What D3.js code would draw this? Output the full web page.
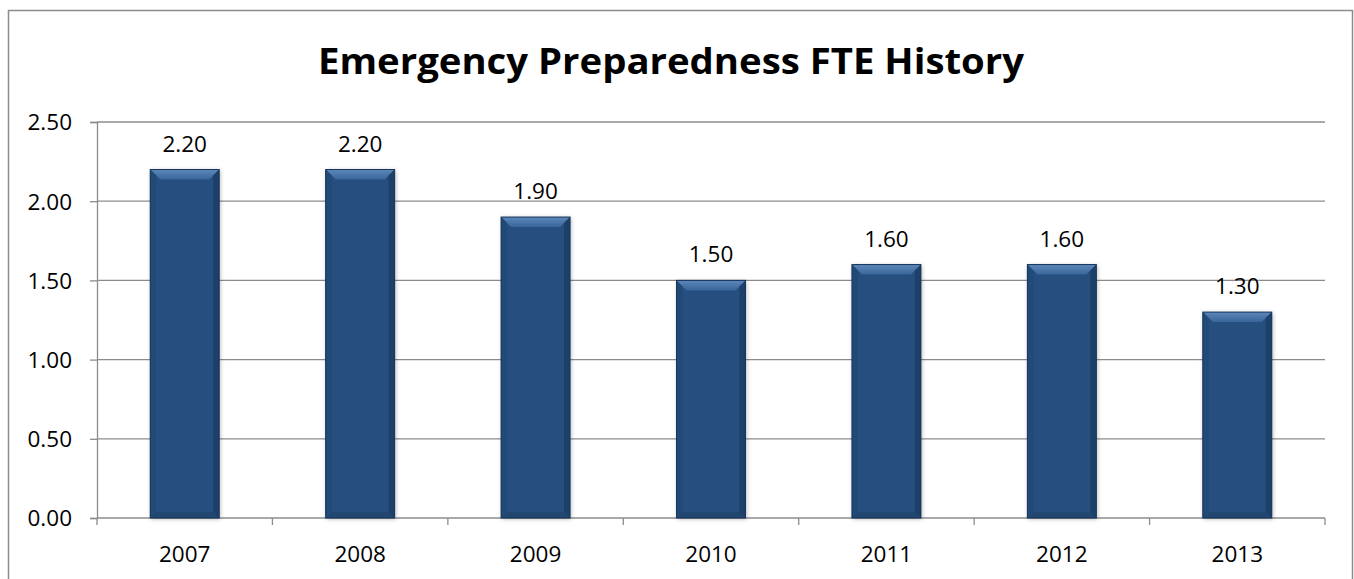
<!DOCTYPE html>
<html>
<head>
<meta charset="utf-8">
<script src="https://cdn.jsdelivr.net/npm/d3@7"></script>
<style>
  body { margin: 0; background: #fff; }
  svg { display: block; }
</style>
</head>
<body>
<script>
// datos del grafico
const years = ["2007", "2008", "2009", "2010", "2011", "2012", "2013"]
const fte = [2.20, 2.20, 1.90, 1.50, 1.60, 1.60, 1.30]
const yTicks = [0, 0.5, 1, 1.5, 2, 2.5]
const title = "Emergency Preparedness FTE History"

const W = 1354, H = 579
const margin = {top: 122, right: 29, bottom: 61, left: 97}
const width = W - margin.left - margin.right
const height = H - margin.top - margin.bottom

const svg = d3.select("body").append("svg")
    .attr("width", W)
    .attr("height", H)

const font = "'Open Sans', Lato, sans-serif"
const fs = 22.5

// marco exterior
svg.append("rect")
    .attr("x", 8.5).attr("y", 10.5)
    .attr("width", W - 10).attr("height", H + 20)
    .attr("fill", "none")
    .attr("stroke", "#8c8c8c")
    .attr("stroke-width", 1.5)

svg.append("text")
    .attr("x", 671).attr("y", 74)
    .attr("text-anchor", "middle")
    .attr("font-family", font)
    .attr("font-weight", "bold")
    .attr("font-size", 36)
    .attr("textLength", 706)
    .attr("lengthAdjust", "spacingAndGlyphs")
    .attr("fill", "#000")
    .text(title)

const g = svg.append("g")
    .attr("transform", "translate(" + margin.left + "," + margin.top + ")")

const x = d3.scaleBand()
    .domain(years)
    .range([0, width])
    .paddingInner(0.607)
    .paddingOuter(0.3035)

const y = d3.scaleLinear()
    .domain([0, 2.5])
    .range([height, 0])

// rejilla
g.selectAll(".grid")
    .data(yTicks.slice(1))
    .enter().append("line")
    .attr("x1", 0).attr("x2", width)
    .attr("y1", d => y(d)).attr("y2", d => y(d))
    .attr("stroke", "#8c8c8c")
    .attr("stroke-width", 1.3)

// eje Y
const yAxis = g.append("g")
    .call(d3.axisLeft(y).tickValues(yTicks).tickFormat(d3.format(".2f")).tickSize(7).tickPadding(18))
yAxis.select(".domain").attr("stroke", "#8c8c8c").attr("stroke-width", 1.3)
yAxis.selectAll(".tick line").attr("stroke", "#8c8c8c").attr("stroke-width", 1.3)
yAxis.selectAll("text")
    .attr("font-family", font).attr("font-size", fs).attr("fill", "#000")
    .attr("dy", "0.35em")

// eje X
const step = width / years.length
const xAxis = g.append("g").attr("transform", "translate(0," + height + ")")
xAxis.append("line")
    .attr("x1", 0).attr("x2", width)
    .attr("stroke", "#8c8c8c").attr("stroke-width", 1.3)
xAxis.selectAll(".xt")
    .data(d3.range(years.length + 1))
    .enter().append("line")
    .attr("x1", i => i * step).attr("x2", i => i * step)
    .attr("y1", 0).attr("y2", 7)
    .attr("stroke", "#8c8c8c").attr("stroke-width", 1.3)
xAxis.selectAll(".xl")
    .data(years)
    .enter().append("text")
    .attr("x", d => x(d) + x.bandwidth() / 2)
    .attr("y", 44)
    .attr("text-anchor", "middle")
    .attr("font-family", font).attr("font-size", fs).attr("fill", "#000")
    .text(d => d)

// barras con bisel
const defs = svg.append("defs")
const sh = defs.append("filter").attr("id", "sombra")
    .attr("x", "-20%").attr("y", "-10%").attr("width", "140%").attr("height", "120%")
sh.append("feDropShadow").attr("dx", 1).attr("dy", 1).attr("stdDeviation", 2)
    .attr("flood-color", "#000").attr("flood-opacity", 0.3)
const grTop = defs.append("linearGradient").attr("id", "bisel").attr("x1", 0).attr("y1", 0).attr("x2", 0).attr("y2", 1)
grTop.append("stop").attr("offset", "0%").attr("stop-color", "#5c88bb")
grTop.append("stop").attr("offset", "100%").attr("stop-color", "#3a659a")

const bev = 10
const barras = g.selectAll(".bar")
    .data(years.map((d, i) => ({year: d, v: fte[i]})))
    .enter().append("g")

barras.append("rect")
    .attr("x", d => x(d.year))
    .attr("y", d => y(d.v))
    .attr("width", x.bandwidth())
    .attr("height", d => height - y(d.v))
    .attr("fill", "#25507f")
    .attr("filter", "url(#sombra)")

// bisel superior
barras.append("polygon")
    .attr("points", d => {
        const x0 = x(d.year), x1 = x0 + x.bandwidth(), t = y(d.v)
        return [[x0, t], [x1, t], [x1 - bev, t + bev], [x0 + bev, t + bev]].join(" ")
    })
    .attr("fill", "url(#bisel)")
// lados
barras.append("polygon")
    .attr("points", d => {
        const x0 = x(d.year), t = y(d.v)
        return [[x0, t], [x0 + 6, t + 6], [x0 + 6, height - 6], [x0, height]].join(" ")
    })
    .attr("fill", "#214a77")
barras.append("polygon")
    .attr("points", d => {
        const x1 = x(d.year) + x.bandwidth(), t = y(d.v)
        return [[x1, t], [x1 - 6, t + 6], [x1 - 6, height - 6], [x1, height]].join(" ")
    })
    .attr("fill", "#1d4068")
barras.append("polygon")
    .attr("points", d => {
        const x0 = x(d.year), x1 = x0 + x.bandwidth()
        return [[x0, height], [x1, height], [x1 - 6, height - 6], [x0 + 6, height - 6]].join(" ")
    })
    .attr("fill", "#21466f")
barras.append("rect")
    .attr("x", d => x(d.year))
    .attr("y", d => y(d.v))
    .attr("width", x.bandwidth())
    .attr("height", d => height - y(d.v))
    .attr("fill", "none")
    .attr("stroke", "#17355a")
    .attr("stroke-width", 1)

// etiquetas
barras.append("text")
    .attr("x", d => x(d.year) + x.bandwidth() / 2)
    .attr("y", d => y(d.v) - 18)
    .attr("text-anchor", "middle")
    .attr("font-family", font).attr("font-size", fs).attr("fill", "#000")
    .text(d => d.v.toFixed(2))
</script>
</body>
</html>
